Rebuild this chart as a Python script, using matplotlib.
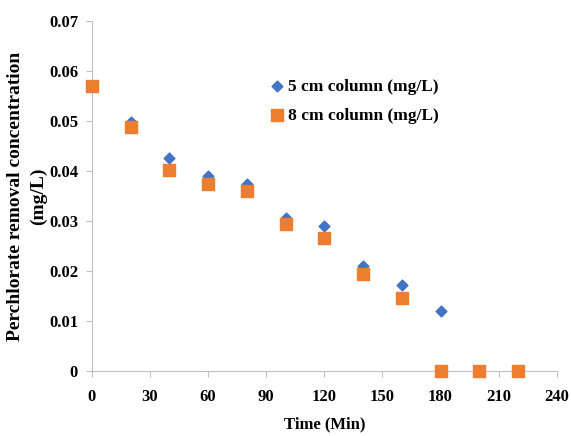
import matplotlib
matplotlib.use("Agg")
import matplotlib.pyplot as plt

time_min = [0, 20, 40, 60, 80, 100, 120, 140, 160, 180, 200, 220]
col5 = [0.057, 0.0497, 0.0425, 0.039, 0.0374, 0.0305, 0.029, 0.0211, 0.0173, 0.012, 0.0, 0.0]
col8 = [0.057, 0.0487, 0.0401, 0.0374, 0.036, 0.0293, 0.0265, 0.0195, 0.0147, 0.0, 0.0, 0.0]
xticks = [0, 30, 60, 90, 120, 150, 180, 210, 240]
yticks = [0, 0.01, 0.02, 0.03, 0.04, 0.05, 0.06, 0.07]
ylabels = ["0", "0.01", "0.02", "0.03", "0.04", "0.05", "0.06", "0.07"]

plt.rcParams['font.family'] = ['Liberation Serif', 'DejaVu Serif']
plt.rcParams['font.weight'] = 'bold'

fig = plt.figure(figsize=(5.71, 4.36), dpi=100)
ax = fig.add_axes([0.161, 0.149, 0.814, 0.803])

ax.scatter(time_min, col5, marker='D', s=30, color='#4472C4', label='5 cm column (mg/L)', zorder=3, clip_on=False)
ax.scatter(time_min, col8, marker='s', s=80, color='#ED7D31', label='8 cm column (mg/L)', zorder=4, clip_on=False)

ax.set_xlim(0, 240)
ax.set_ylim(0, 0.07)
ax.set_xticks(xticks)
ax.set_yticks(yticks)
ax.set_yticklabels(ylabels)
for s in ['top', 'right']:
    ax.spines[s].set_visible(False)
for s in ['left', 'bottom']:
    ax.spines[s].set_color('#BFBFBF')
ax.tick_params(axis='both', colors='#BFBFBF', labelcolor='black', labelsize=12, length=4)
ax.tick_params(axis='y', pad=6)
ax.tick_params(axis='x', pad=9)
for lbl in ax.get_xticklabels() + ax.get_yticklabels():
    lbl.set_fontweight('bold')

ax.set_xlabel('Time (Min)', fontsize=12, fontweight='bold', labelpad=8)
ax.set_ylabel('Perchlorate removal concentration\n(mg/L)', fontsize=14, fontweight='bold', labelpad=1,
              linespacing=1.45)

ax.legend(loc='upper left', bbox_to_anchor=(0.365, 0.855), frameon=False, fontsize=12.5,
          handletextpad=0.1, handlelength=1.0, labelspacing=0.75, borderaxespad=0)

fig.savefig('out.png', dpi=100)
